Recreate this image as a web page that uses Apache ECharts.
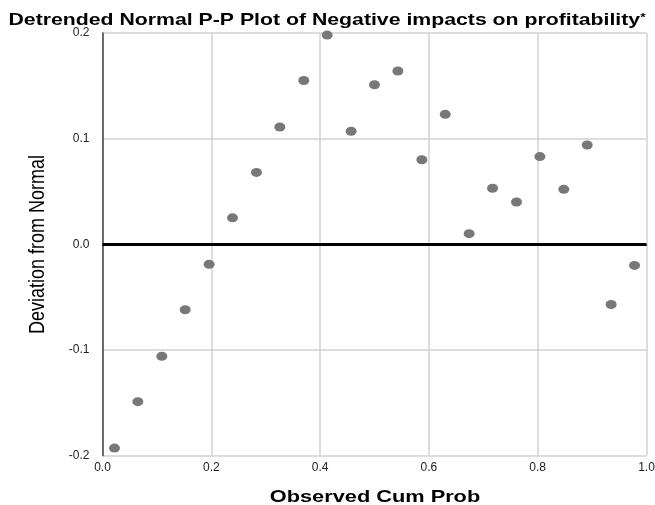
<!DOCTYPE html>
<html>
<head>
<meta charset="utf-8">
<script src="https://cdn.jsdelivr.net/npm/echarts@6/dist/echarts.min.js"></script>
</head>
<body style="margin:0">
<div id="chart" style="width:655px;height:505px"></div>
<script>
// observed cumulative probability and detrended deviation
var cumProb = [0.022, 0.065, 0.109, 0.152, 0.196, 0.239, 0.283, 0.326, 0.370, 0.413, 0.457, 0.500,
               0.543, 0.587, 0.630, 0.674, 0.717, 0.761, 0.804, 0.848, 0.891, 0.935, 0.978];
var deviation = [-0.193, -0.149, -0.106, -0.062, -0.019, 0.025, 0.068, 0.111, 0.155, 0.198, 0.107, 0.151,
                 0.164, 0.080, 0.123, 0.010, 0.053, 0.040, 0.083, 0.052, 0.094, -0.057, -0.020];
var xTicks = ['0.0', '0.2', '0.4', '0.6', '0.8', '1.0'];
var titleText = 'Detrended Normal P-P Plot of Negative impacts on profitability';
var xName = 'Observed Cum Prob';
var yName = 'Deviation from Normal';

var points = cumProb.map(function (x, i) { return [x, deviation[i]]; });

var chart = echarts.init(document.getElementById('chart'));
chart.setOption({
    animation: false,
    // the source picture is stretched sideways, so the big texts get scaled too
    graphic: [
        {
            type: 'text', x: 327, y: 20.5, scaleX: 1.25,
            style: {
                text: '{t|' + titleText + '}{s|*}',
                fill: '#000', textAlign: 'center', textVerticalAlign: 'middle',
                rich: {
                    t: { font: 'bold 17px "Liberation Sans"', fill: '#000' },
                    s: { font: 'bold 11px "Liberation Sans"', fill: '#000', verticalAlign: 'top' }
                }
            }
        },
        {
            type: 'text', x: 375, y: 497, scaleX: 1.28,
            style: {
                text: xName, font: 'bold 17px "Liberation Sans"', fill: '#000',
                textAlign: 'center', textVerticalAlign: 'middle'
            }
        },
        {
            type: 'text', x: 38, y: 244.5, rotation: Math.PI / 2, scaleY: 1.25,
            style: {
                text: yName, font: '18px "Liberation Sans"', fill: '#000',
                textAlign: 'center', textVerticalAlign: 'middle'
            }
        }
    ],
    grid: { left: 102.5, right: 8.5, top: 33, bottom: 49.5, outerBoundsMode: 'none' },
    xAxis: {
        type: 'value', min: 0, max: 1, interval: 0.2,
        axisLine: { show: true, lineStyle: { color: '#6a6a6a', width: 1.5 } },
        axisTick: { show: false },
        axisLabel: {
            margin: 6, fontFamily: 'Liberation Sans', fontSize: 12, color: '#222',
            formatter: function (v) { return xTicks[Math.round(v * 5)]; }
        },
        splitLine: { show: true, lineStyle: { color: '#d2d2d2', width: 1.5 } }
    },
    yAxis: {
        type: 'value', min: -0.2, max: 0.2, interval: 0.1,
        axisLine: { show: true, lineStyle: { color: '#444', width: 1.5 } },
        axisTick: { show: false },
        axisLabel: {
            margin: 13, fontFamily: 'Liberation Sans', fontSize: 12, color: '#222',
            formatter: function (v) { return v.toFixed(1); }
        },
        splitLine: { show: true, lineStyle: { color: '#d2d2d2', width: 1.5 } }
    },
    series: [{
        type: 'scatter',
        data: points,
        symbol: 'circle',
        symbolSize: [11, 9],
        itemStyle: { color: '#787878', opacity: 1 },
        markLine: {
            silent: true, symbol: 'none', label: { show: false },
            lineStyle: { color: '#000', width: 3, type: 'solid' },
            data: [{ yAxis: 0 }]
        }
    }]
});
</script>
</body>
</html>
